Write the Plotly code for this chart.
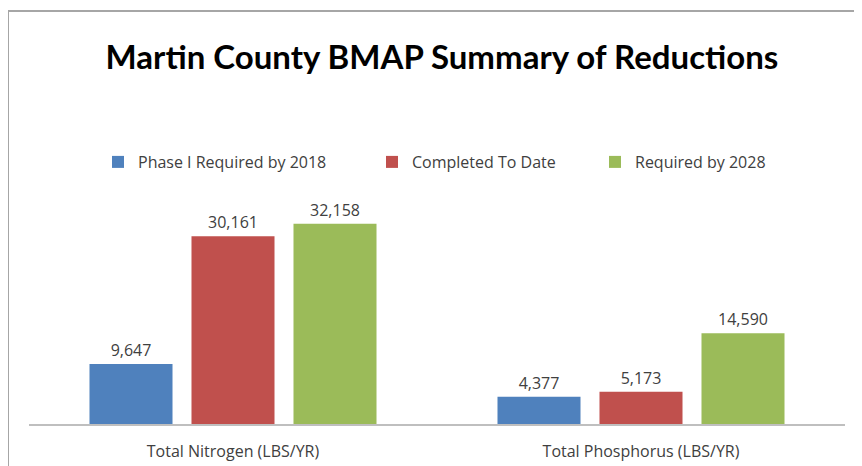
import plotly.graph_objects as go

categories = ["Total Nitrogen (LBS/YR)", "Total Phosphorus (LBS/YR)"]
series_names = ["Phase I Required by 2018", "Completed To Date", "Required by 2028"]
phase1 = [9647, 4377]
completed = [30161, 5173]
required2028 = [32158, 14590]
colors = ["#4F81BD", "#C0504D", "#9BBB59"]

W, H = 862, 466
OFF = 8  # page body offset
L, R, T, B = 21, 25, 198, 50
pw, ph = W - L - R, H - T - B

def px_x(sx):
    return (sx - OFF - L) / pw

def px_y(sy):
    return (H - B - (sy - OFF)) / ph

FONT = "Open Sans"
TXT = "#404040"
legend_ids = ["legend", "legend2", "legend3"]
legend_left = [98, 372, 595]

fig = go.Figure()
for name, vals, col, lid in zip(series_names, [phase1, completed, required2028], colors, legend_ids):
    fig.add_trace(go.Bar(
        x=categories, y=vals, name=name, marker_color=col, marker_line_width=0,
        text=[f"{v:,}" for v in vals], textposition="outside",
        textfont=dict(family=FONT, size=16, color=TXT),
        cliponaxis=False, legend=lid,
    ))

legend_common = dict(orientation="h", xanchor="left", yanchor="middle",
                     font=dict(family=FONT, size=16, color=TXT),
                     itemwidth=30, bgcolor="rgba(0,0,0,0)")
layout_legends = {}
for lid, lx in zip(legend_ids, legend_left):
    layout_legends[lid] = dict(legend_common, x=px_x(lx), y=px_y(162))

fig.update_layout(
    width=W, height=H,
    margin=dict(l=L, r=R, t=T, b=B),
    paper_bgcolor="white", plot_bgcolor="white",
    barmode="group", bargap=0.25, bargroupgap=0.186,
    title=dict(text="<b>Martin County BMAP Summary of Reductions</b>",
               x=(442 - OFF) / W, xanchor="center", y=1 - (57 - OFF) / H, yanchor="middle",
               font=dict(family="Lato", size=33, color="#000000")),
    showlegend=True,
    **layout_legends,
)
fig.update_xaxes(showline=True, linecolor="#bfbfbf", linewidth=1.5, ticks="",
                 tickfont=dict(family=FONT, size=16, color=TXT),
                 ticklabelstandoff=12)
fig.update_yaxes(range=[0, 35000], visible=False)

border = "#a6a6a6"
fig.add_shape(type="line", xref="paper", yref="paper",
              x0=px_x(8), x1=px_x(862), y0=px_y(11), y1=px_y(11),
              line=dict(color=border, width=2))
fig.add_shape(type="line", xref="paper", yref="paper",
              x0=px_x(8), x1=px_x(8), y0=px_y(11), y1=px_y(466),
              line=dict(color=border, width=2))

fig.write_html("out.html", config={"displayModeBar": False})
